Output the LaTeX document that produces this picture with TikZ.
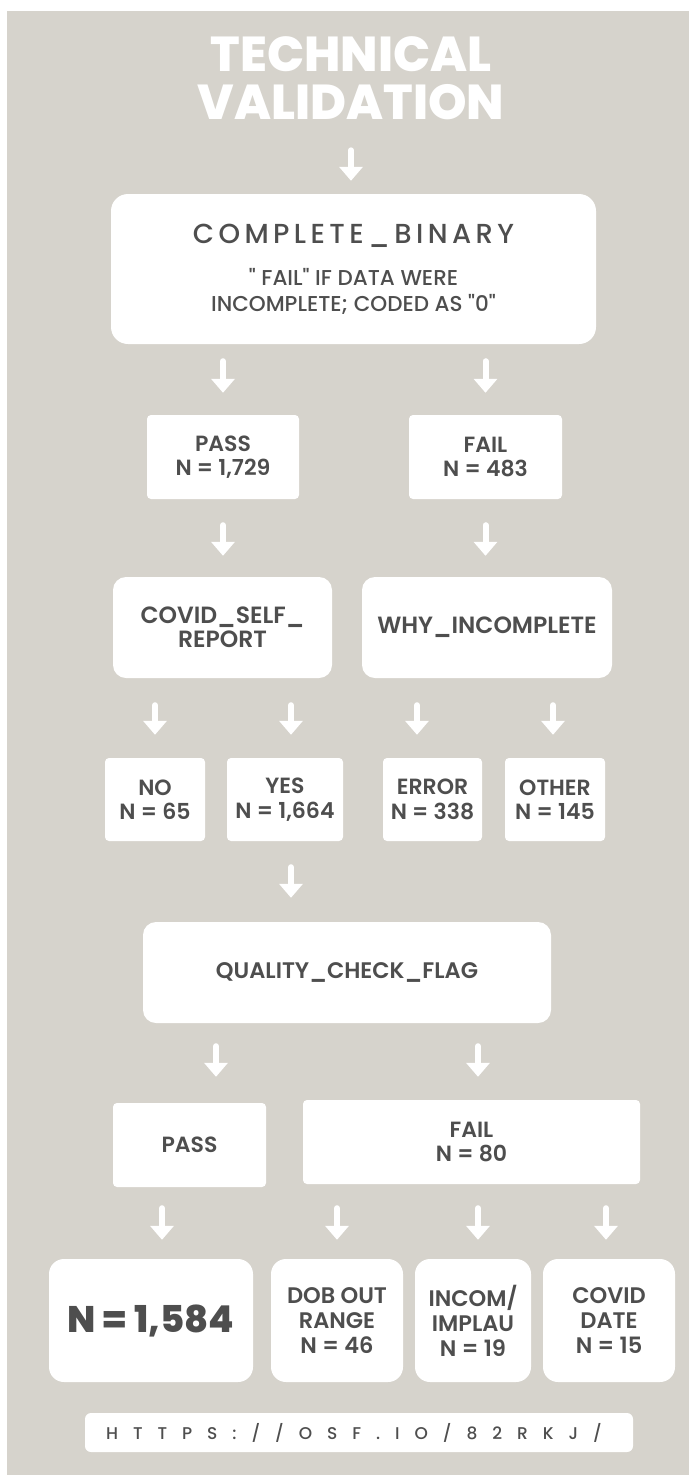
\documentclass[tikz,border=0pt]{standalone}
\usepackage{fontspec}
\newfontfamily\boxfont{Poppins}[UprightFont=*-SemiBold,BoldFont=*-ExtraBold]
\newfontfamily\medfont{Poppins}[UprightFont=*-Medium]
\newfontfamily\spacedfont{Poppins}[UprightFont=*-Medium,LetterSpace=16]
\newfontfamily\urlfont{Poppins}[UprightFont=*-Medium,LetterSpace=88]
\usetikzlibrary{arrows.meta,positioning,calc}
\definecolor{bggray}{RGB}{214,211,204}
\definecolor{txtgray}{RGB}{78,78,78}

\begin{document}
\begin{tikzpicture}[x=1pt,y=-1pt]
\tikzset{box/.style={fill=white, text=txtgray, align=center, inner sep=0pt, rounded corners=13pt, font=\boxfont\fontsize{22}{24.5}\selectfont}}
\tikzset{sq/.style={box, rounded corners=4pt}}
\tikzset{tall/.style={box, minimum height=123pt, rounded corners=15pt, font=\boxfont\fontsize{22.5}{25}\selectfont}}
\tikzset{arr/.style={draw=white, line width=6pt, line cap=round, -{Triangle[width=23pt,length=14pt]}}}

\useasboundingbox (0,0) rectangle (689,1475);
\fill [white] (0,0) rectangle (689,1475);
\fill [bggray] (7,11) rectangle (689,1475);

\node [text=white, align=center, inner sep=0pt, font=\boxfont\bfseries\fontsize{49}{48}\selectfont] (title) at (351,78.5) {TECHNICAL\\VALIDATION};

\begin{scope}[every node/.style={box}]
\node [minimum width=485pt, minimum height=150pt, rounded corners=17pt, font=\medfont\fontsize{21.5}{26}\selectfont] (cb) at (353.5,269) {{\spacedfont\fontsize{27.5}{30}\selectfont COMPLETE\_BINARY}\\[16pt]" FAIL" IF DATA WERE\\INCOMPLETE; CODED AS "0"};
\node [sq, minimum width=152pt, minimum height=84pt] (pass1) at (223,457) {PASS\\N = 1,729};
\node [sq, minimum width=153pt, minimum height=84pt] (fail1) at (485.5,457) {FAIL\\N = 483};
\node [minimum width=219pt, minimum height=101pt, font=\boxfont\fontsize{23.5}{24}\selectfont] (covid) at (222.5,627.5) {COVID\_SELF\_\\REPORT};
\node [minimum width=250pt, minimum height=101pt, font=\boxfont\fontsize{23.5}{24}\selectfont] (why) at (487,627.5) {WHY\_INCOMPLETE};
\node [sq, minimum width=100pt, minimum height=83pt] (no) at (155,799.5) {NO\\N = 65};
\node [sq, minimum width=116pt, minimum height=83pt] (yes) at (285,799.5) {YES\\N = 1,664};
\node [sq, minimum width=99pt, minimum height=83pt] (error) at (432.5,799.5) {ERROR\\N = 338};
\node [sq, minimum width=100pt, minimum height=83pt] (other) at (555,799.5) {OTHER\\N = 145};
\node [minimum width=408pt, minimum height=101pt, font=\boxfont\fontsize{22.5}{25}\selectfont] (qcf) at (347,972.5) {QUALITY\_CHECK\_FLAG};
\node [sq, minimum width=153pt, minimum height=84pt] (pass2) at (189.5,1145) {PASS};
\node [sq, minimum width=337pt, minimum height=84pt] (fail2) at (471.5,1142) {FAIL\\N = 80};
\node [tall, minimum width=204pt, font=\boxfont\bfseries\fontsize{37}{40}\selectfont] (final) at (151,1320.5) {N = 1,584};
\node [tall, minimum width=132pt] (dob) at (337,1320.5) {DOB OUT\\RANGE\\N = 46};
\node [tall, minimum width=116pt] (incom) at (473,1320.5) {INCOM/\\IMPLAU\\N = 19};
\node [tall, minimum width=132pt] (cdate) at (609,1320.5) {COVID\\DATE\\N = 15};
\node [minimum width=548pt, minimum height=39pt, rounded corners=6pt, font=\urlfont\fontsize{17}{20}\selectfont] (url) at (359,1432.5) {\hspace*{-10pt}HTTPS://OSF.IO/82RKJ/};
\end{scope}

\draw [arr, shorten <=30pt, shorten >=13pt] (title.south) -- (title.south |- cb.north);
\draw [arr, shorten <=17pt, shorten >=22pt] (cb.south -| pass1.north) -- (pass1.north);
\draw [arr, shorten <=17pt, shorten >=22pt] (cb.south -| fail1.north) -- (fail1.north);
\draw [arr, shorten <=26pt, shorten >=21pt] (pass1.south) -- (pass1.south |- covid.north);
\draw [arr, shorten <=26pt, shorten >=21pt] (fail1.south) -- (fail1.south |- why.north);
\draw [arr, shorten <=27pt, shorten >=23pt] (covid.south -| no.north) -- (no.north);
\draw [arr, shorten <=27pt, shorten >=23pt] ($(covid.south -| yes.north)+(6,0)$) -- ($(yes.north)+(6,0)$);
\draw [arr, shorten <=27pt, shorten >=23pt] ($(why.south -| error.north)+(-15.5,0)$) -- ($(error.north)+(-15.5,0)$);
\draw [arr, shorten <=27pt, shorten >=23pt] ($(why.south -| other.north)+(-2,0)$) -- ($(other.north)+(-2,0)$);
\draw [arr, shorten <=26pt, shorten >=24pt] ($(yes.south)+(6,0)$) -- ($(yes.south |- qcf.north)+(6,0)$);
\draw [arr, shorten <=23pt, shorten >=26pt] ($(qcf.south -| pass2.north)+(26.5,0)$) -- ($(pass2.north)+(26.5,0)$);
\draw [arr, shorten <=23pt, shorten >=23pt] ($(qcf.south -| fail2.north)+(6.5,0)$) -- ($(fail2.north)+(6.5,0)$);
\draw [arr, shorten <=21pt, shorten >=19pt] ($(pass2.south -| final.north)+(11,0)$) -- ($(final.north)+(11,0)$);
\draw [arr, shorten <=24pt, shorten >=19pt] (fail2.south -| dob.north) -- (dob.north);
\draw [arr, shorten <=24pt, shorten >=19pt] ($(fail2.south -| incom.north)+(5,0)$) -- ($(incom.north)+(5,0)$);
\draw [arr, shorten <=24pt, shorten >=19pt] ($(fail2.south -| cdate.north)+(-3,0)$) -- ($(cdate.north)+(-3,0)$);

\end{tikzpicture}
\end{document}
